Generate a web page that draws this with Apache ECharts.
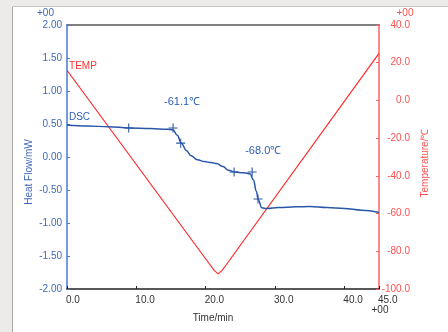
<!DOCTYPE html>
<html>
<head>
<meta charset="utf-8">
<script src="https://cdn.jsdelivr.net/npm/echarts@6/dist/echarts.min.js"></script>
<style>
  html, body { margin: 0; padding: 0; background: #fff; }
  #chart { width: 448px; height: 332px; }
</style>
</head>
<body>
<div id="chart"></div>
<script>
// DSC heat flow [time(min), mW]
const dscData = [
  [0, 0.485], [3, 0.47], [6, 0.458], [9, 0.44], [12, 0.43], [14.5, 0.42],
  [15.3, 0.41], [15.9, 0.33], [16.5, 0.21], [17.2, 0.10], [17.9, 0.02],
  [18.8, -0.04], [19.8, -0.07], [20.8, -0.085], [21.6, -0.10], [22.5, -0.145],
  [23.3, -0.2], [24.2, -0.228], [25.5, -0.24], [26.4, -0.255], [26.9, -0.35],
  [27.3, -0.52], [27.6, -0.65], [28.1, -0.77], [28.8, -0.78], [30.5, -0.765],
  [33, -0.755], [35, -0.75], [37.5, -0.765], [40, -0.78], [42.5, -0.805], [45, -0.84]
];
// temperature program [time(min), ℃]
const tempData = [
  [0, 16], [20.6, -87], [21.2, -90], [21.8, -92], [22.4, -90], [23, -87], [45, 25]
];
// analysis cross marks on the DSC curve
const crossMarks = [
  [8.9, 0.44], [15.3, 0.44], [16.4, 0.21], [24.1, -0.227], [26.7, -0.227], [27.55, -0.636]
];
// text labels [time, heat flow, text, size]
const notes = [
  [2.3, 1.38, 'TEMP', '#ff3030', 10],
  [1.8, 0.60, 'DSC', '#3060b0', 10],
  [16.6, 0.84, '-61.1℃', '#3060b0', 11],
  [28.3, 0.095, '-68.0℃', '#3060b0', 11]
];

const blue = '#2a56a8';
const blueLabel = '#4068b8';
const red = '#ff2a2a';
const redLabel = '#ff5050';
const font = 'Liberation Sans';

const chart = echarts.init(document.getElementById('chart'));

chart.setOption({
  animation: false,
  textStyle: { fontFamily: font },
  grid: { left: 67, right: 69, top: 25, bottom: 43 },
  graphic: [
    { type: 'rect', shape: { x: 0, y: 0, width: 448, height: 6 }, style: { fill: '#ecebe9' }, z: -10 },
    { type: 'rect', shape: { x: 0, y: 0, width: 12, height: 332 }, style: { fill: '#ecebe9' }, z: -10 },
    { type: 'line', shape: { x1: 12.5, y1: 6.5, x2: 12.5, y2: 332 }, style: { stroke: '#a8a8a8', lineWidth: 1 } },
    { type: 'line', shape: { x1: 12.5, y1: 6.5, x2: 448, y2: 6.5 }, style: { stroke: '#c8c8c8', lineWidth: 1 } },
    { type: 'text', x: 45.5, y: 13.5, style: { text: '+00', fill: blueLabel, font: '10px ' + font, align: 'center', verticalAlign: 'middle' } },
    { type: 'text', x: 405, y: 13.5, style: { text: '+00', fill: redLabel, font: '10px ' + font, align: 'center', verticalAlign: 'middle' } },
    { type: 'text', x: 380, y: 310, style: { text: '+00', fill: '#333', font: '10px ' + font, align: 'center', verticalAlign: 'middle' } },
    { type: 'text', x: 29, y: 172, rotation: Math.PI / 2, style: { text: 'Heat Flow/mW', fill: blueLabel, font: '10px ' + font, align: 'center', verticalAlign: 'middle' } },
    { type: 'text', x: 425, y: 163, rotation: Math.PI / 2, style: { text: 'Temperature/℃', fill: redLabel, font: '10px ' + font, align: 'center', verticalAlign: 'middle' } },
    { type: 'text', x: 213, y: 318, style: { text: 'Time/min', fill: '#333', font: '10px ' + font, align: 'center', verticalAlign: 'middle' } }
  ],
  xAxis: [
    {
      type: 'value', min: 0, max: 45, interval: 10,
      axisLine: { onZero: false, lineStyle: { color: '#222', width: 1.5 } },
      axisTick: { inside: true, length: 3, lineStyle: { color: '#222' } },
      axisLabel: {
        color: '#333', fontSize: 10, margin: 6, align: 'left', padding: [0, 0, 0, -1],
        formatter: v => v.toFixed(1)
      },
      splitLine: { show: false }
    },
    {
      type: 'value', min: 0, max: 45, position: 'top',
      axisLine: { onZero: false, lineStyle: { color: '#555', width: 1.5 } },
      axisTick: { show: false }, axisLabel: { show: false }, splitLine: { show: false }
    }
  ],
  yAxis: [
    {
      type: 'value', min: -2, max: 2, interval: 0.5,
      axisLine: { show: true, onZero: false, lineStyle: { color: '#4a78d0', width: 1.5 } },
      axisTick: { show: true, inside: true, length: 3, lineStyle: { color: '#4a78d0' } },
      axisLabel: { color: blueLabel, fontSize: 10, margin: 5, formatter: v => v.toFixed(2) },
      splitLine: { show: false }
    },
    {
      type: 'value', min: -100, max: 40, interval: 20, position: 'right',
      axisLine: { show: true, onZero: false, lineStyle: { color: '#ff6060', width: 1.5 } },
      axisTick: { show: true, inside: true, length: 3, lineStyle: { color: '#ff6060' } },
      axisLabel: { color: redLabel, fontSize: 10, margin: 31, align: 'right', formatter: v => v.toFixed(1) },
      splitLine: { show: false }
    }
  ],
  series: [
    {
      name: 'TEMP', type: 'line', yAxisIndex: 1, data: tempData,
      showSymbol: false, lineStyle: { color: red, width: 1.2 }
    },
    {
      name: 'DSC', type: 'line', yAxisIndex: 0, data: dscData,
      showSymbol: false, smooth: 0.4, smoothMonotone: 'x',
      lineStyle: { color: blue, width: 1.5 },
      markPoint: {
        symbol: 'circle', symbolSize: 0,
        data: notes.map(n => ({
          coord: [n[0], n[1]],
          label: { show: true, formatter: n[2], color: n[3], fontSize: n[4], position: 'inside' }
        }))
      }
    },
    {
      name: 'marks', type: 'scatter', yAxisIndex: 0, data: crossMarks,
      symbol: 'path://M4.4,0h1.2v10h-1.2zM0,4.4h10v1.2h-10z', symbolSize: 9,
      itemStyle: { color: blue, opacity: 1 }
    }
  ]
});
</script>
</body>
</html>
